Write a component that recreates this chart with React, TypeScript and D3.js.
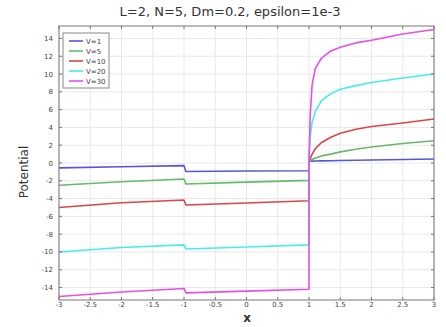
import React from "react";
import * as d3 from "d3";

const xGrid = [-3, -2, -1, -0.97, 0, 1, 1, 1.02, 1.05, 1.1, 1.2, 1.35, 1.5, 1.75, 2, 2.5, 3];
const v1 = [-0.55, -0.42, -0.3, -0.95, -0.9, -0.87, 0.2, 0.2, 0.21, 0.22, 0.24, 0.26, 0.28, 0.31, 0.34, 0.4, 0.45];
const v5 = [-2.5, -2.1, -1.8, -2.36, -2.15, -1.95, 0.2, 0.25, 0.4, 0.55, 0.8, 1.0, 1.25, 1.55, 1.8, 2.2, 2.5];
const v10 = [-5.0, -4.46, -4.16, -4.72, -4.5, -4.24, 0.2, 0.5, 1.0, 1.6, 2.3, 2.9, 3.35, 3.8, 4.1, 4.5, 4.95];
const v20 = [-10.0, -9.5, -9.2, -9.66, -9.45, -9.2, 0.3, 3.0, 4.6, 5.8, 7.0, 7.8, 8.3, 8.7, 9.05, 9.55, 10.0];
const v30 = [-15.0, -14.5, -14.1, -14.6, -14.4, -14.2, 0.3, 5.5, 8.8, 10.6, 11.8, 12.6, 13.0, 13.5, 13.8, 14.5, 15.0];

const seriesNames = ["V=1", "V=5", "V=10", "V=20", "V=30"];
const seriesValues = [v1, v5, v10, v20, v30];
const colors = ["#5555dd", "#66bb66", "#dd4444", "#44eeee", "#e84ee8"];

const xTicks = [-3, -2.5, -2, -1.5, -1, -0.5, 0, 0.5, 1, 1.5, 2, 2.5, 3];
const yTicks = [-14, -12, -10, -8, -6, -4, -2, 0, 2, 4, 6, 8, 10, 12, 14];

const W = 446;
const H = 327;
const left = 59;
const right = 434;
const top = 26;
const bottom = 300;

export default function App() {
  const x = d3.scaleLinear().domain([-3, 3]).range([left, right]);
  const y = d3.scaleLinear().domain([-15.4, 15.4]).range([bottom, top]);
  const line = d3
    .line<number>()
    .x((_, i) => x(xGrid[i]))
    .y((d) => y(d));
  const font = "DejaVu Sans, sans-serif";

  return (
    <svg
      width={W}
      height={H}
      style={{ position: "absolute", left: 0, top: 0, background: "#fff" }}
      fontFamily={font}
    >
      <rect x={0} y={0} width={W} height={H} fill="#fff" />
      {xTicks.map((t) => (
        <line key={"gx" + t} x1={x(t)} x2={x(t)} y1={top} y2={bottom} stroke="#e8e8e8" strokeWidth={1} />
      ))}
      {yTicks.map((t) => (
        <line key={"gy" + t} x1={left} x2={right} y1={y(t)} y2={y(t)} stroke="#e8e8e8" strokeWidth={1} />
      ))}
      {seriesValues.map((vals, i) => (
        <path key={seriesNames[i]} d={line(vals) || ""} fill="none" stroke={colors[i]} strokeWidth={1.6} strokeLinejoin="round" />
      ))}
      <rect x={left} y={top} width={right - left} height={bottom - top} fill="none" stroke="#777" strokeWidth={1} />
      {xTicks.map((t) => (
        <g key={"tx" + t}>
          <line x1={x(t)} x2={x(t)} y1={bottom} y2={bottom - 3} stroke="#777" />
          <line x1={x(t)} x2={x(t)} y1={top} y2={top + 3} stroke="#777" />
          <text x={x(t)} y={307} fontSize={7} fill="#444" textAnchor="middle">
            {String(t)}
          </text>
        </g>
      ))}
      {yTicks.map((t) => (
        <g key={"ty" + t}>
          <line x1={left} x2={left + 3} y1={y(t)} y2={y(t)} stroke="#777" />
          <line x1={right} x2={right - 3} y1={y(t)} y2={y(t)} stroke="#777" />
          <text x={53} y={y(t) + 2.5} fontSize={7} fill="#444" textAnchor="end">
            {String(t)}
          </text>
        </g>
      ))}
      <rect x={63} y={33} width={46} height={55} fill="#fff" stroke="#888" strokeWidth={1} />
      {seriesNames.map((n, i) => {
        const ly = 41 + i * 10;
        return (
          <g key={"lg" + n}>
            <line x1={69} x2={83} y1={ly} y2={ly} stroke={colors[i]} strokeWidth={1.6} />
            <text x={86} y={ly + 2.5} fontSize={7} fill="#444">
              {n}
            </text>
          </g>
        );
      })}
      <text x={230} y={16} fontSize={13} fill="#333" textAnchor="middle">
        L=2, N=5, Dm=0.2, epsilon=1e-3
      </text>
      <text x={247} y={322} fontSize={12} fontWeight="bold" fill="#333" textAnchor="middle">
        x
      </text>
      <text transform={`translate(28,172) rotate(-90)`} fontSize={12} fill="#333" textAnchor="middle">
        Potential
      </text>
    </svg>
  );
}
